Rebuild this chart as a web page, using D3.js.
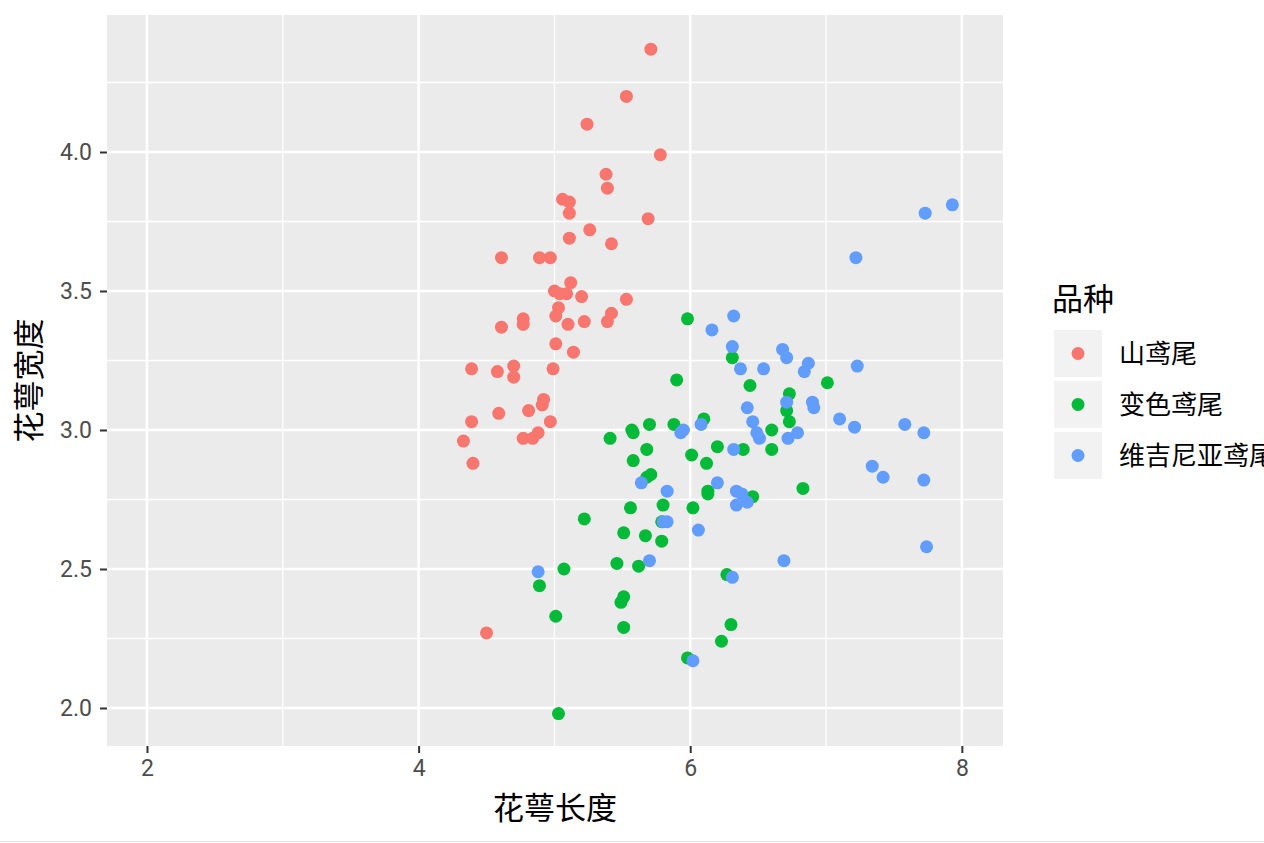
<!DOCTYPE html>
<html>
<head>
<meta charset="utf-8">
<script src="https://cdn.jsdelivr.net/npm/d3@7"></script>
<style>
  body { margin: 0; background: #ffffff; overflow: hidden; }
  svg { display: block; font-family: "Noto Sans CJK SC", "Noto Sans", sans-serif; }
</style>
</head>
<body>
<div id="chart"></div>
<script>
// species names (legend order) and colours
const species = ["山鸢尾", "变色鸢尾", "维吉尼亚鸢尾"];
const speciesColors = ["#F8766D", "#00BA38", "#619CFF"];

// sepal length / width per species (jittered points)
const setosaLength = [5.71, 5.53, 5.24, 5.78, 5.38, 5.39, 5.06, 5.11, 5.11, 5.69,
    5.11, 5.26, 5.42, 4.61, 4.89, 4.97, 5.12, 5.00, 5.04, 5.09,
    5.20, 5.53, 5.03, 5.01, 5.10, 5.22, 5.42, 5.39, 4.61, 4.77,
    4.77, 5.01, 5.14, 4.39, 4.58, 4.70, 4.70, 4.99, 4.92, 4.91,
    4.59, 4.81, 4.97, 4.39, 4.33, 4.77, 4.84, 4.88, 4.40, 4.50];
const setosaWidth = [4.37, 4.20, 4.10, 3.99, 3.92, 3.87, 3.83, 3.82, 3.78, 3.76,
    3.69, 3.72, 3.67, 3.62, 3.62, 3.62, 3.53, 3.50, 3.49, 3.49,
    3.48, 3.47, 3.44, 3.41, 3.38, 3.39, 3.42, 3.39, 3.37, 3.40,
    3.38, 3.31, 3.28, 3.22, 3.21, 3.23, 3.19, 3.22, 3.11, 3.09,
    3.06, 3.07, 3.03, 3.03, 2.96, 2.97, 2.97, 2.99, 2.88, 2.27];

const versicolorLength = [5.98, 6.31, 5.90, 6.44, 7.01, 6.73, 6.71, 6.73, 6.10, 5.88,
    5.70, 5.57, 5.58, 5.41, 6.60, 6.60, 6.39, 6.20, 5.68, 5.58,
    6.01, 6.12, 5.68, 5.71, 6.13, 6.13, 6.46, 6.83, 5.80, 6.02,
    5.56, 5.22, 5.51, 5.67, 5.79, 5.46, 5.62, 5.07, 4.89, 5.51,
    5.49, 6.27, 5.01, 5.51, 6.30, 6.23, 5.98, 5.03, 5.79];
const versicolorWidth = [3.40, 3.26, 3.18, 3.16, 3.17, 3.13, 3.07, 3.03, 3.04, 3.02,
    3.02, 3.00, 2.99, 2.97, 3.00, 2.93, 2.93, 2.94, 2.93, 2.89,
    2.91, 2.88, 2.83, 2.84, 2.78, 2.77, 2.76, 2.79, 2.73, 2.72,
    2.72, 2.68, 2.63, 2.62, 2.60, 2.52, 2.51, 2.50, 2.44, 2.40,
    2.38, 2.48, 2.33, 2.29, 2.30, 2.24, 2.18, 1.98, 2.67];

const virginicaLength = [7.73, 7.93, 7.22, 6.32, 6.16, 6.31, 6.37, 6.54, 6.68, 6.71,
    6.87, 6.84, 7.23, 6.71, 6.90, 6.91, 6.42, 6.46, 6.49, 6.51,
    6.79, 6.72, 7.10, 7.21, 7.58, 7.72, 7.34, 7.42, 7.72, 6.38,
    6.42, 6.34, 6.34, 7.74, 6.69, 5.95, 5.93, 6.08, 6.32, 6.20,
    5.64, 5.83, 5.80, 5.83, 6.06, 5.70, 4.88, 6.31, 6.02];
const virginicaWidth = [3.78, 3.81, 3.62, 3.41, 3.36, 3.30, 3.22, 3.22, 3.29, 3.26,
    3.24, 3.21, 3.23, 3.10, 3.10, 3.08, 3.08, 3.03, 2.99, 2.97,
    2.99, 2.97, 3.04, 3.01, 3.02, 2.99, 2.87, 2.83, 2.82, 2.77,
    2.74, 2.78, 2.73, 2.58, 2.53, 3.00, 2.99, 3.02, 2.93, 2.81,
    2.81, 2.78, 2.67, 2.67, 2.64, 2.53, 2.49, 2.47, 2.17];

const xTicks = [2, 4, 6, 8];
const yTicks = [2.0, 2.5, 3.0, 3.5, 4.0];

const width = 1264, height = 843;
const panel = { left: 107, right: 1003, top: 15, bottom: 746 };

const svg = d3.select("#chart").append("svg")
    .attr("width", width)
    .attr("height", height);

const x = d3.scaleLinear().domain([1.7055, 8.303]).range([panel.left, panel.right]);
const y = d3.scaleLinear().domain([1.8633, 4.4928]).range([panel.bottom, panel.top]);

// panel background
svg.append("rect")
    .attr("x", panel.left).attr("y", panel.top)
    .attr("width", panel.right - panel.left)
    .attr("height", panel.bottom - panel.top)
    .attr("fill", "#EBEBEB");

// minor grid lines sit halfway between the major ones
const xMinor = d3.range(xTicks.length + 1).map(i => xTicks[0] + (i - 0.5) * (xTicks[1] - xTicks[0]))
    .filter(v => x(v) > panel.left && x(v) < panel.right);
const yMinor = d3.range(yTicks.length + 1).map(i => yTicks[0] + (i - 0.5) * (yTicks[1] - yTicks[0]))
    .filter(v => y(v) > panel.top && y(v) < panel.bottom);

const grid = svg.append("g").attr("stroke", "#ffffff");
grid.selectAll(".vminor").data(xMinor).enter().append("line")
    .attr("x1", d => x(d)).attr("x2", d => x(d))
    .attr("y1", panel.top).attr("y2", panel.bottom)
    .attr("stroke-width", 1.3);
grid.selectAll(".hminor").data(yMinor).enter().append("line")
    .attr("y1", d => y(d)).attr("y2", d => y(d))
    .attr("x1", panel.left).attr("x2", panel.right)
    .attr("stroke-width", 1.3);
grid.selectAll(".vmajor").data(xTicks).enter().append("line")
    .attr("x1", d => x(d)).attr("x2", d => x(d))
    .attr("y1", panel.top).attr("y2", panel.bottom)
    .attr("stroke-width", 2.6);
grid.selectAll(".hmajor").data(yTicks).enter().append("line")
    .attr("y1", d => y(d)).attr("y2", d => y(d))
    .attr("x1", panel.left).attr("x2", panel.right)
    .attr("stroke-width", 2.6);

// axes
const xAxis = svg.append("g")
    .attr("transform", `translate(0, ${panel.bottom})`)
    .call(d3.axisBottom(x).tickValues(xTicks).tickSize(7).tickPadding(7).tickFormat(d3.format("d")));
const yAxis = svg.append("g")
    .attr("transform", `translate(${panel.left}, 0)`)
    .call(d3.axisLeft(y).tickValues(yTicks).tickSize(7).tickPadding(8).tickFormat(d3.format(".1f")));

[xAxis, yAxis].forEach(a => {
    a.select(".domain").remove();
    a.selectAll(".tick line").attr("stroke", "#333333").attr("stroke-width", 2);
    a.selectAll(".tick text")
        .attr("fill", "#4D4D4D")
        .style("font-size", "23px")
        .style("font-family", "Roboto, 'Noto Sans', sans-serif");
});

// axis titles
svg.append("text")
    .attr("x", (panel.left + panel.right) / 2)
    .attr("y", 819)
    .attr("text-anchor", "middle")
    .style("font-size", "31px")
    .attr("fill", "#000000")
    .text("花萼长度");

svg.append("text")
    .attr("transform", `translate(40, ${(panel.top + panel.bottom) / 2}) rotate(-90)`)
    .attr("text-anchor", "middle")
    .style("font-size", "31px")
    .attr("fill", "#000000")
    .text("花萼宽度");

// points
const groups = [
    { lengths: setosaLength, widths: setosaWidth },
    { lengths: versicolorLength, widths: versicolorWidth },
    { lengths: virginicaLength, widths: virginicaWidth }
];

groups.forEach((g, gi) => {
    const pts = g.lengths.map((v, i) => ({ sl: v, sw: g.widths[i] }));
    svg.append("g").selectAll("circle")
        .data(pts)
        .enter()
        .append("circle")
        .attr("cx", d => x(d.sl))
        .attr("cy", d => y(d.sw))
        .attr("r", 6.5)
        .attr("fill", speciesColors[gi]);
});

// legend
const legend = svg.append("g");
legend.append("text")
    .attr("x", 1052)
    .attr("y", 310)
    .style("font-size", "31px")
    .attr("fill", "#000000")
    .text("品种");

const legendItem = legend.selectAll(".legend-item")
    .data(species)
    .enter()
    .append("g")
    .attr("class", "legend-item")
    .attr("transform", (d, i) => `translate(1054, ${330 + i * 51})`);

legendItem.append("rect")
    .attr("width", 48)
    .attr("height", 47)
    .attr("fill", "#F2F2F2");

legendItem.append("circle")
    .attr("cx", 24)
    .attr("cy", 23.5)
    .attr("r", 6.5)
    .attr("fill", (d, i) => speciesColors[i]);

legendItem.append("text")
    .attr("x", 65)
    .attr("y", 23.5)
    .attr("dy", "0.36em")
    .style("font-size", "26px")
    .attr("fill", "#000000")
    .text(d => d);

// faint border line along the bottom edge of the picture
svg.append("line")
    .attr("x1", 0).attr("x2", width)
    .attr("y1", 841.5).attr("y2", 841.5)
    .attr("stroke", "#E3E3E3")
    .attr("stroke-width", 1);
</script>
</body>
</html>
